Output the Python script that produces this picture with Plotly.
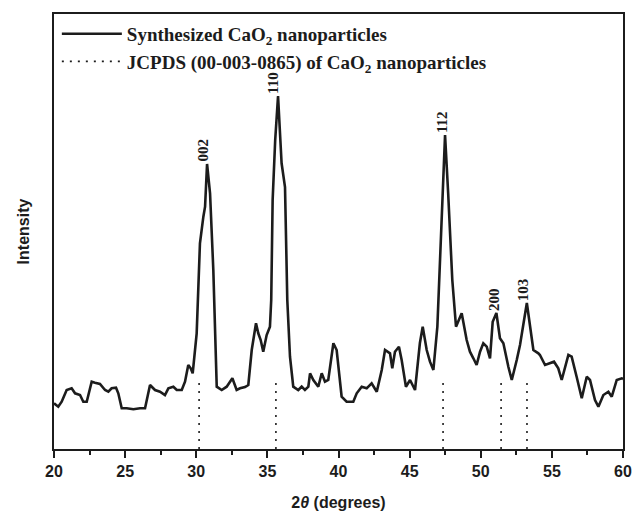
import plotly.graph_objects as go

# XRD pattern of synthesized CaO2 nanoparticles (2-theta in degrees, intensity in a.u.)
two_theta = [
    20.00, 20.30, 20.54, 20.89, 21.24, 21.48, 21.83, 22.06, 22.30, 22.65,
    22.88, 23.23, 23.59, 23.82, 24.05, 24.36, 24.52, 24.76, 25.11, 25.58,
    26.05, 26.40, 26.75, 27.10, 27.45, 27.80, 28.04, 28.39, 28.63, 28.98,
    29.21, 29.44, 29.61, 29.75, 30.03, 30.26, 30.50, 30.62, 30.76, 30.97,
    31.20, 31.44, 31.79, 32.14, 32.54, 32.84, 33.08, 33.43, 33.66, 33.90,
    34.20, 34.36, 34.53, 34.71, 34.95, 35.18, 35.27, 35.37, 35.55, 35.75,
    36.00, 36.24, 36.40, 36.59, 36.82, 37.17, 37.41, 37.64, 37.88, 38.00,
    38.23, 38.58, 38.82, 39.05, 39.28, 39.64, 39.87, 40.22, 40.57, 41.04,
    41.28, 41.63, 41.98, 42.33, 42.69, 43.04, 43.27, 43.62, 43.78, 43.97,
    44.25, 44.44, 44.74, 45.03, 45.38, 45.72, 45.92, 46.20, 46.43, 46.67,
    46.95, 47.19, 47.49, 47.71, 48.00, 48.26, 48.66, 49.01, 49.24, 49.48,
    49.71, 49.95, 50.18, 50.42, 50.65, 50.84, 51.10, 51.35, 51.59, 51.94,
    52.18, 52.53, 52.76, 53.24, 53.70, 54.05, 54.16, 54.52, 54.87, 55.15,
    55.45, 55.69, 56.16, 56.39, 56.74, 57.10, 57.45, 57.68, 58.03, 58.27,
    58.62, 58.97, 59.21, 59.56, 59.91, 60.00,
]
intensity = [
    45.7, 42.3, 47.3, 59.0, 60.7, 55.7, 54.0, 47.3, 47.3, 67.3,
    66.3, 65.0, 59.0, 57.3, 60.7, 61.3, 55.7, 40.7, 40.7, 39.7,
    40.7, 40.7, 64.0, 59.0, 57.3, 54.0, 60.7, 62.3, 59.0, 59.0,
    67.3, 84.0, 80.7, 75.7, 115.7, 205.7, 232.3, 242.3, 285.0, 255.7,
    179.0, 62.3, 59.0, 62.3, 70.7, 59.0, 60.7, 62.0, 64.0, 99.0,
    125.7, 115.7, 109.0, 97.3, 114.0, 122.3, 149.0, 249.0, 309.0, 353.0,
    285.7, 262.0, 149.0, 92.3, 62.3, 59.0, 62.3, 59.0, 62.3, 75.7,
    69.0, 62.3, 75.7, 67.3, 69.0, 105.7, 99.0, 52.3, 47.3, 47.3,
    55.7, 62.3, 60.7, 65.7, 57.3, 79.0, 99.0, 95.7, 80.7, 97.3,
    102.3, 89.0, 62.3, 69.0, 59.0, 105.7, 122.3, 99.0, 87.3, 79.0,
    122.3, 205.7, 314.0, 255.7, 169.0, 122.3, 135.7, 109.0, 97.3, 90.7,
    84.0, 97.3, 105.7, 102.3, 90.7, 127.3, 136.0, 110.7, 105.7, 82.3,
    69.0, 89.0, 104.0, 146.0, 99.0, 95.7, 94.0, 84.0, 85.7, 87.3,
    80.7, 69.0, 94.0, 92.3, 72.3, 50.7, 72.3, 69.0, 49.0, 42.3,
    54.0, 57.3, 52.3, 69.0, 70.7, 70.0,
]

# Reference reflections, JCPDS card 00-003-0865
jcpds_two_theta = [30.20, 35.60, 47.35, 51.43, 53.25]
jcpds_intensity = [69, 67, 70, 67, 68]

# Miller indices of the indexed peaks
peak_labels = ["002", "110", "112", "200", "103"]
peak_two_theta = [30.76, 35.75, 47.49, 51.10, 53.24]
peak_intensity = [285.0, 353.0, 314.0, 136.0, 146.0]

ink = "#1c1c1c"
serif = "Liberation Serif"
sans = "Liberation Sans"

# Stick pattern as one broken line
stick_x, stick_y = [], []
for pos, val in zip(jcpds_two_theta, jcpds_intensity):
    stick_x += [pos, pos, None]
    stick_y += [0, val, None]

fig = go.Figure()
fig.add_trace(go.Scatter(
    x=two_theta, y=intensity, mode="lines",
    line=dict(color=ink, width=2.6),
    name="Synthesized CaO<sub>2</sub> nanoparticles",
))
fig.add_trace(go.Scatter(
    x=stick_x, y=stick_y, mode="lines",
    line=dict(color=ink, width=1.6, dash="2px,6px"),
    name="JCPDS (00-003-0865) of CaO<sub>2</sub> nanoparticles",
))

shifts = [-5, -5, -3, -3, -4]
for lab, px, py, dx in zip(peak_labels, peak_two_theta, peak_intensity, shifts):
    fig.add_annotation(
        x=px, y=py, text=lab, textangle=-90, showarrow=False,
        xanchor="center", yanchor="bottom", xshift=dx, yshift=0,
        font=dict(family=serif, size=15, color=ink, weight="bold"),
    )

fig.update_layout(
    width=634, height=513,
    margin=dict(l=54, r=11, t=14, b=64),
    paper_bgcolor="white", plot_bgcolor="white",
    showlegend=True,
    legend=dict(
        x=0.005, y=0.998, xanchor="left", yanchor="top",
        bgcolor="rgba(0,0,0,0)", borderwidth=0,
        font=dict(family=serif, size=19, color=ink, weight="bold"),
        itemwidth=60, tracegroupgap=0,
    ),
    xaxis=dict(
        range=[20, 60], dtick=5, tick0=20, automargin=False,
        ticks="outside", ticklen=7, tickwidth=2, tickcolor=ink,
        minor=dict(dtick=2.5, ticks="outside", ticklen=4, tickwidth=2, tickcolor=ink),
        showline=True, linecolor=ink, linewidth=2, mirror=True,
        showgrid=False, zeroline=False,
        tickfont=dict(family=sans, size=16, color=ink, weight="bold"),
        title=dict(text="2<i>θ</i> (degrees)", standoff=18,
                   font=dict(family=sans, size=16, color=ink, weight="bold")),
    ),
    yaxis=dict(
        range=[0, 435], showticklabels=False, ticks="", automargin=False,
        showline=True, linecolor=ink, linewidth=2, mirror=True,
        showgrid=False, zeroline=False,
        title=dict(text="Intensity", standoff=18,
                   font=dict(family=sans, size=16, color=ink, weight="bold")),
    ),
)

fig.write_html("out.html")
